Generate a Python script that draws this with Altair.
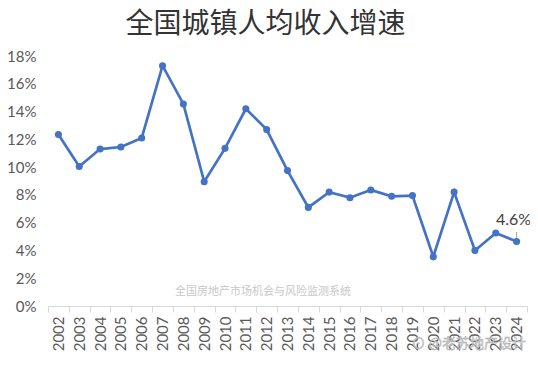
import altair as alt
import pandas as pd

years = [str(y) for y in range(2002, 2025)]
growth = [12.35, 10.05, 11.3, 11.45, 12.1, 17.3, 14.55, 8.95, 11.35, 14.2, 12.7, 9.75,
          7.1, 8.2, 7.8, 8.35, 7.9, 7.95, 3.55, 8.2, 4.0, 5.25, 4.65]
y_ticks = [0, 0.02, 0.04, 0.06, 0.08, 0.10, 0.12, 0.14, 0.16, 0.18]

df = pd.DataFrame({"year": years, "value": [v / 100 for v in growth]})
last = df.iloc[[-1]].copy()
last["label"] = "4.6%"

FONT = "Lato"
BLUE = "#4472C4"
GRAY = "#595959"

x = alt.X("year:N", sort=years, title=None,
          axis=alt.Axis(labelAngle=-90, labelFontSize=15, labelColor=GRAY, labelFont=FONT,
                        domainColor="#d9d9d9", tickColor="#d9d9d9", tickBand="extent",
                        labelPadding=4, tickSize=6, labelBaseline="middle", labelAlign="right",
                        labelOverlap=False),
          scale=alt.Scale(paddingInner=0, paddingOuter=0))
y = alt.Y("value:Q", title=None,
          scale=alt.Scale(domain=[0, 0.18], nice=False),
          axis=alt.Axis(format=".0%", values=y_ticks, grid=False,
                        domain=False, ticks=False, labelFontSize=15, labelColor=GRAY,
                        labelFont=FONT, labelPadding=12, labelOverlap=False))

base = alt.Chart(df)
line = base.mark_line(color=BLUE, strokeWidth=2.7).encode(x=x, y=y)
pts = base.mark_circle(color=BLUE, size=50, opacity=1).encode(x=x, y=y)

lab = alt.Chart(last).mark_text(fontSize=16, font=FONT, color="#404040", dy=-21, dx=-3).encode(
    x=x, y=y, text="label:N")
leader = alt.Chart(last).mark_rule(color="#a6a6a6", strokeWidth=1).encode(
    x=x, y=y, y2=alt.value(176))

wm1 = alt.Chart(pd.DataFrame({"t": ["全国房地产市场机会与风险监测系统"]})).mark_text(
    fontSize=11, color="#c8c8c8", font="Noto Sans CJK SC", align="center").encode(
    x=alt.value(215), y=alt.value(236), text="t:N")
wm2 = alt.Chart(pd.DataFrame({"t": ["⊙ @老苏地产设计"]})).mark_text(
    fontSize=14, color="#d0d0d0", font="Noto Sans CJK SC", align="right", stroke="#aaaaaa",
    strokeWidth=0.4).encode(
    x=alt.value(478), y=alt.value(288), text="t:N")

chart = alt.layer(line, leader, pts, lab, wm1, wm2).properties(
    width=479, height=250,
    title=alt.TitleParams("全国城镇人均收入增速", fontSize=28, font="Noto Sans CJK SC",
                          fontWeight="normal", color="#333333", anchor="middle", offset=10,
                          dx=-22),
    autosize=alt.AutoSizeParams(type="none"),
    padding={"left": 40, "top": 48, "right": 3, "bottom": 53},
).configure_view(stroke=None)

chart.save("out.html", embed_options={"renderer": "svg", "actions": False})
